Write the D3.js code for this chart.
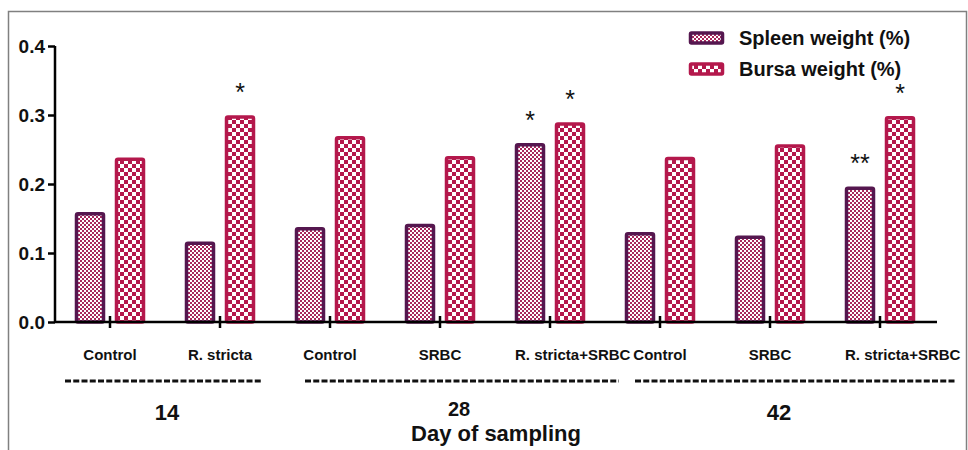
<!DOCTYPE html>
<html>
<head>
<meta charset="utf-8">
<script src="https://cdn.jsdelivr.net/npm/d3@7/dist/d3.min.js"></script>
<style>
  body { margin: 0; background: #fff; }
  svg text { font-family: "Liberation Sans", Arial, sans-serif; font-weight: bold; fill: #111; }
</style>
</head>
<body>
<svg id="chart" width="968" height="450"></svg>
<script>
const groups = ["Control", "R. stricta", "Control", "SRBC", "R. stricta+SRBC", "Control", "SRBC", "R. stricta+SRBC"];
const spleen = [0.157, 0.114, 0.135, 0.140, 0.257, 0.128, 0.123, 0.194];
const bursa = [0.236, 0.297, 0.267, 0.238, 0.287, 0.237, 0.255, 0.296];
const spleenSig = ["", "", "", "", "*", "", "", "**"];
const bursaSig = ["", "*", "", "", "*", "", "", "*"];
const days = ["14", "28", "42"];
const daySpan = [[0, 1], [2, 4], [5, 7]];
const yTicks = [0.0, 0.1, 0.2, 0.3, 0.4];
const seriesNames = ["Spleen weight (%)", "Bursa weight (%)"];

const svg = d3.select("#chart");

// patterns
const defs = svg.append("defs");
const pSpleen = defs.append("pattern").attr("id", "pSpleen")
    .attr("patternUnits", "userSpaceOnUse").attr("width", 4).attr("height", 4);
pSpleen.append("rect").attr("width", 4).attr("height", 4).attr("fill", "#fff");
pSpleen.append("rect").attr("width", 2).attr("height", 2).attr("fill", "#a8285c");
pSpleen.append("rect").attr("x", 2).attr("y", 2).attr("width", 2).attr("height", 2).attr("fill", "#a8285c");

const pBursa = defs.append("pattern").attr("id", "pBursa")
    .attr("patternUnits", "userSpaceOnUse").attr("width", 8).attr("height", 8);
pBursa.append("rect").attr("width", 8).attr("height", 8).attr("fill", "#fff");
pBursa.append("rect").attr("width", 4).attr("height", 4).attr("fill", "#b4184c");
pBursa.append("rect").attr("x", 4).attr("y", 4).attr("width", 4).attr("height", 4).attr("fill", "#b4184c");

// frame
svg.append("rect").attr("x", 8.5).attr("y", 11.5).attr("width", 958).attr("height", 460)
    .attr("fill", "none").attr("stroke", "#808080").attr("stroke-width", 1.5);

const x = d3.scaleBand().domain(d3.range(groups.length)).range([55, 935]).padding(0);
const y = d3.scaleLinear().domain([0, 0.4]).range([322, 46]);
const bw = x.bandwidth();
const cx = i => x(i) + bw / 2;

// bars
const series = [
    { vals: spleen, sig: spleenSig, fill: "url(#pSpleen)", stroke: "#55174f", dx: -33.5 },
    { vals: bursa, sig: bursaSig, fill: "url(#pBursa)", stroke: "#b4184c", dx: 6.5 }
];

series.forEach(s => {
    svg.append("g").selectAll("rect")
        .data(s.vals)
        .join("rect")
        .attr("x", (d, i) => cx(i) + s.dx)
        .attr("y", d => y(d))
        .attr("width", 27)
        .attr("height", d => y(0) - y(d))
        .attr("rx", 1.5)
        .attr("fill", s.fill)
        .attr("stroke", s.stroke)
        .attr("stroke-width", 3.5);

    svg.append("g").selectAll("text")
        .data(s.vals)
        .join("text")
        .attr("x", (d, i) => cx(i) + s.dx + 13.5)
        .attr("y", d => y(d) - 16)
        .attr("text-anchor", "middle")
        .style("font-weight", "normal")
        .style("font-size", "25px")
        .text((d, i) => s.sig[i]);
});

// y axis
const yAxis = svg.append("g").attr("transform", "translate(55,0)")
    .call(d3.axisLeft(y).tickValues(yTicks).tickFormat(d3.format(".1f")).tickSize(7).tickPadding(3));
yAxis.select(".domain").attr("d", `M0,${y(0.4)}V${y(0)}`).attr("stroke", "#000").attr("stroke-width", 2.5);
yAxis.selectAll(".tick line").attr("stroke", "#000").attr("stroke-width", 2.5);
yAxis.selectAll(".tick text").attr("dy", "0.36em")
    .style("font-size", "19px").style("font-family", "'Liberation Sans', Arial, sans-serif")
    .style("font-weight", "bold").attr("fill", "#111");

// x axis
const xAxis = svg.append("g").attr("transform", `translate(0,${y(0)})`)
    .call(d3.axisBottom(x).tickSize(12).tickFormat(""));
xAxis.select(".domain").attr("d", "M55,0H937").attr("stroke", "#000").attr("stroke-width", 2.5);
xAxis.selectAll(".tick line").attr("y1", -6).attr("y2", 6).attr("stroke", "#000").attr("stroke-width", 2.5);

// category labels
svg.append("g").selectAll("text")
    .data(groups)
    .join("text")
    .attr("y", 360)
    .style("font-size", "15px")
    .text(d => d)
    .each(function(d, i) {
        const t = d3.select(this);
        const w = this.getComputedTextLength();
        if (w > 90) {
            t.attr("x", cx(i) - 35).attr("text-anchor", "start");
        } else {
            t.attr("x", cx(i)).attr("text-anchor", "middle");
        }
    });

// dashed rules under each day
const ruleNudge = [[10, -12], [30, 14], [30, 21]];
const dayNudge = [2, 19, 9];
daySpan.forEach((sp, k) => {
    const x0 = x(sp[0]) + ruleNudge[k][0];
    const x1 = x(sp[1]) + bw + ruleNudge[k][1];
    svg.append("line")
        .attr("x1", x0).attr("x2", x1).attr("y1", 381).attr("y2", 381)
        .attr("stroke", "#111").attr("stroke-width", 3)
        .attr("stroke-dasharray", "6,2.25");
    svg.append("text")
        .attr("x", (x(sp[0]) + x(sp[1]) + bw) / 2 + dayNudge[k])
        .attr("y", k === 1 ? 416 : 420)
        .attr("text-anchor", "middle")
        .style("font-size", k === 1 ? "20px" : "22px")
        .text(days[k]);
});

svg.append("text")
    .attr("x", 496).attr("y", 441)
    .attr("text-anchor", "middle")
    .style("font-size", "22px")
    .text("Day of sampling");

// legend
const legend = svg.append("g").attr("transform", "translate(690,0)");
seriesNames.forEach((name, i) => {
    const row = legend.append("g").attr("transform", `translate(0,${38 + i * 31})`);
    row.append("rect")
        .attr("x", 0.5).attr("y", -5).attr("width", 32).attr("height", 10).attr("rx", 1)
        .attr("fill", series[i].fill).attr("stroke", series[i].stroke).attr("stroke-width", 3.5);
    row.append("text").attr("x", 49).attr("y", 7).style("font-size", "20px").text(name);
});
</script>
</body>
</html>
